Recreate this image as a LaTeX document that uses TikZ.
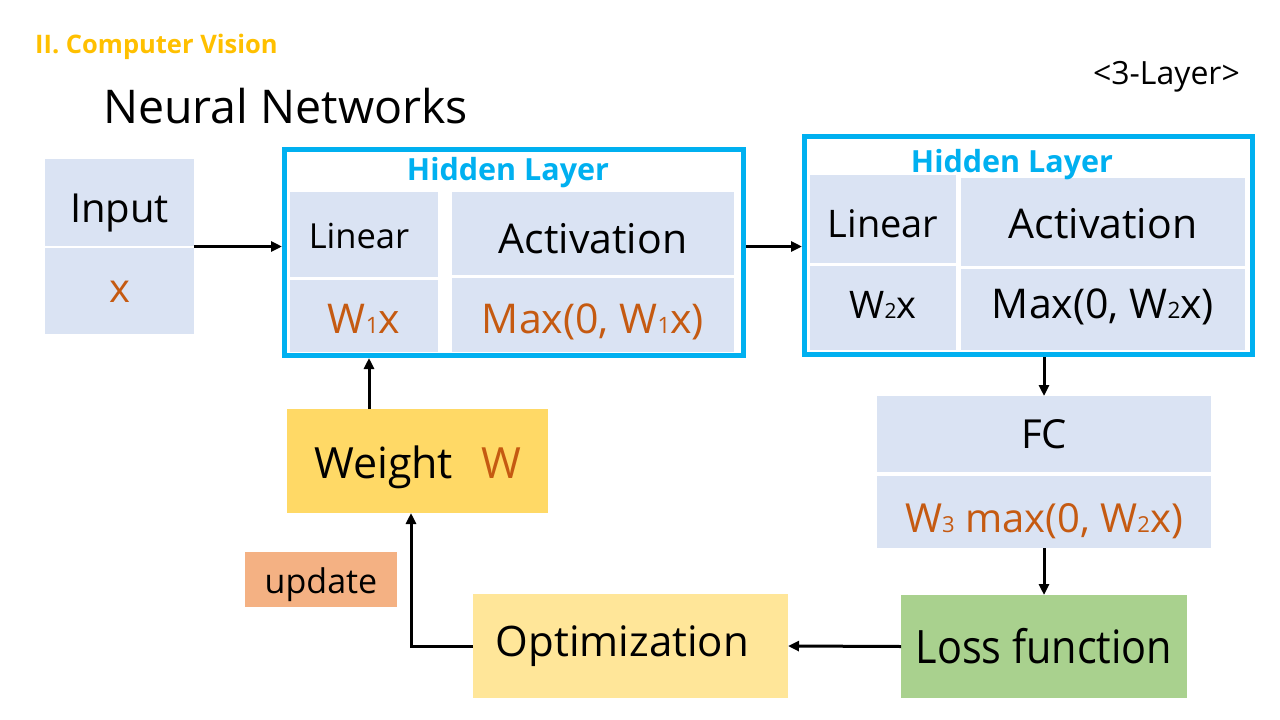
\documentclass[tikz,border=0pt]{standalone}
\usepackage{fontspec}
\usepackage{graphicx}
\setmainfont{Open Sans}
\usetikzlibrary{arrows.meta}
\definecolor{cellblue}{HTML}{DAE3F3}
\definecolor{hlblue}{HTML}{00B0F0}
\definecolor{txtorange}{HTML}{C55A11}
\definecolor{titleyellow}{HTML}{FFC000}
\definecolor{weightfill}{HTML}{FFD966}
\definecolor{optfill}{HTML}{FFE699}
\definecolor{lossfill}{HTML}{A9D18E}
\definecolor{updfill}{HTML}{F4B183}
\newcommand\fsz[1]{\fontsize{#1}{#1}\selectfont}
\newcommand\sbn[1]{\scalebox{0.55}{#1}}
% place text baseline #1 pt below the node centre
\newcommand\bl[2]{\raisebox{-#1pt}[0pt][0pt]{#2}}
\tikzset{
  cell/.style={fill=cellblue, inner sep=0pt, outer sep=0pt, align=center},
  solidbox/.style={inner sep=0pt, outer sep=0pt, align=center},
  hlbox/.style={draw=hlblue, line width=5pt, inner sep=0pt, fill=none},
  hltitle/.style={text=hlblue, font=\fsz{30.5}\bfseries, anchor=base, inner sep=0pt},
  arr/.style={line width=3pt, -{Triangle[length=11pt,width=10pt]}},
  org/.style={text=txtorange}
}
\begin{document}
\begin{tikzpicture}[x=1pt,y=-1pt]
\useasboundingbox (0,0) rectangle (1280,720);
\fill[white] (0,0) rectangle (1280,720);

% titles
\node[anchor=base west, inner sep=0pt, text=titleyellow, font=\fsz{25.5}\bfseries] (sec) at (35,53) {II. Computer Vision};
\node[anchor=base west, inner sep=0pt, font=\fsz{46.5}] (ttl) at (103,123) {Neural Networks};
\node[anchor=east, inner sep=0pt, font=\fsz{32}] (lay) at (1240,77) {<3-Layer>};

% input
\node[cell, minimum width=149, minimum height=87, font=\fsz{40}] (intop) at (119.5,202.5) {\bl{19.5}{Input}};
\node[cell, minimum width=149, minimum height=86, font=\fsz{40}, org] (inbot) at (119.5,291) {\bl{11}{x}};
\node[inner sep=0pt, outer sep=0pt, minimum width=149, minimum height=175] (input) at (119.5,246.5) {};

% hidden layer 1
\node[cell, minimum width=148, minimum height=85, font=\fsz{34.5}] (l1a) at (364,234.5) {\bl{13.5}{\hspace*{-10pt}Linear}};
\node[cell, minimum width=148, minimum height=72, font=\fsz{41}, org] (l1b) at (364,316) {\bl{17}{W\sbn{1}x}};
\node[cell, minimum width=282, minimum height=83, font=\fsz{41}] (a1a) at (593,233.5) {\bl{19.5}{Activation}};
\node[cell, minimum width=282, minimum height=74, font=\fsz{41}, org] (a1b) at (593,315) {\bl{18}{Max(0, W\sbn{1}x)}};
\node[hlbox, minimum width=459, minimum height=206] (hl1) at (514,252.5) {};
\node[hltitle] (hl1t) at (508,180) {Hidden Layer};

% hidden layer 2
\node[cell, minimum width=146, minimum height=88, font=\fsz{38}] (l2a) at (883,219) {\bl{18}{Linear}};
\node[cell, minimum width=146, minimum height=84, font=\fsz{38}] (l2b) at (883,308) {\bl{10}{W\sbn{2}x}};
\node[cell, minimum width=284, minimum height=88, font=\fsz{41}] (a2a) at (1103,222) {\bl{16}{Activation}};
\node[cell, minimum width=284, minimum height=81, font=\fsz{41}] (a2b) at (1103,309.5) {\bl{8.5}{Max(0, W\sbn{2}x)}};
\node[hlbox, minimum width=448, minimum height=218] (hl2) at (1028.5,245.5) {};
\node[hltitle] (hl2t) at (1012,172) {Hidden Layer};

% FC
\node[cell, minimum width=334, minimum height=76, font=\fsz{40}] (fc) at (1044,434) {\bl{14}{FC}};
\node[cell, minimum width=334, minimum height=72, font=\fsz{40}, org] (fcb) at (1044,512) {\bl{20}{W\sbn{3} max(0, W\sbn{2}x)}};

% bottom boxes
\node[solidbox, fill=weightfill, minimum width=261, minimum height=104, font=\fsz{43}] (weight) at (417.5,461) {\bl{17}{Weight\hspace{28pt}\textcolor{txtorange}{W}}};
\node[solidbox, fill=updfill, minimum width=152, minimum height=55, font=\fsz{34}] (upd) at (321,579.5) {\bl{13.5}{update}};
\node[solidbox, fill=optfill, minimum width=315, minimum height=104, font=\fsz{42}] (opt) at (630.5,646) {\hspace*{-16pt}Optimization};
\node[solidbox, fill=lossfill, minimum width=286, minimum height=103, font=\fsz{46}] (loss) at (1044,646.5) {\scalebox{0.9}[1]{Loss function}};

% connectors
\coordinate (wtop) at (369,409);
\coordinate (wbot) at (411,513);
\draw[arr] (input.east) -- (input.east -| hl1.west);
\draw[arr] (hl1.east |- input.east) -- (hl2.west |- input.east);
\draw[arr] (hl2.south -| fc.north) -- (fc.north);
\draw[arr] (fcb.south) -- (loss.north);
\draw[arr] (loss.west) -- (opt.east);
\draw[arr] (opt.west) -| (wbot);
\draw[arr] (wtop) -- (wtop |- hl1.south);
\end{tikzpicture}
\end{document}
